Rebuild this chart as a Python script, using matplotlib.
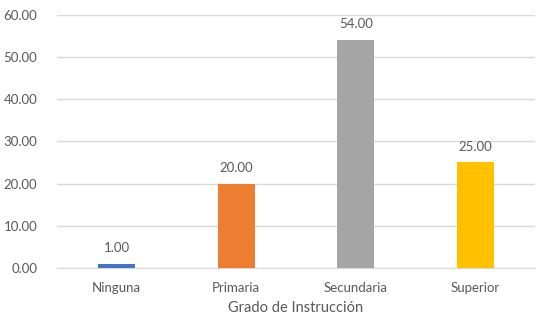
import matplotlib.pyplot as plt

categorias = ["Ninguna", "Primaria", "Secundaria", "Superior"]
valores = [1.00, 20.00, 54.00, 25.00]
colores = ["#4472C4", "#ED7D31", "#A5A5A5", "#FFC000"]

plt.rcParams['font.family'] = ['Lato', 'DejaVu Sans']
texto = "#595959"

fig = plt.figure(figsize=(5.42, 3.17), dpi=100)
ax = fig.add_axes([0.105, 0.155, 0.882, 0.798])

x = range(len(categorias))
bars = ax.bar(x, valores, width=0.31, color=colores, zorder=3)
for b, v in zip(bars, valores):
    ax.text(b.get_x() + b.get_width() / 2, v + 2.3, f"{v:.2f}",
            ha='center', va='bottom', fontsize=9.5, color=texto)

ax.set_ylim(0, 60)
ax.set_xlim(-0.5, len(categorias) - 0.5)
ax.set_yticks(range(0, 61, 10))
ax.set_yticklabels([f"{t:.2f}" for t in range(0, 61, 10)])
ax.set_xticks(list(x))
ax.set_xticklabels(categorias)
ax.tick_params(axis='both', length=0, labelsize=9.5, colors=texto)
ax.tick_params(axis='y', pad=14)
ax.tick_params(axis='x', pad=10)
ax.grid(axis='y', color="#D9D9D9", linewidth=1, zorder=0)
for s in ['top', 'right', 'left']:
    ax.spines[s].set_visible(False)
ax.spines['bottom'].set_color("#D9D9D9")
ax.set_xlabel("Grado de Instrucción", fontsize=10.5, color=texto, labelpad=5)

fig.savefig("out.png", dpi=100)
